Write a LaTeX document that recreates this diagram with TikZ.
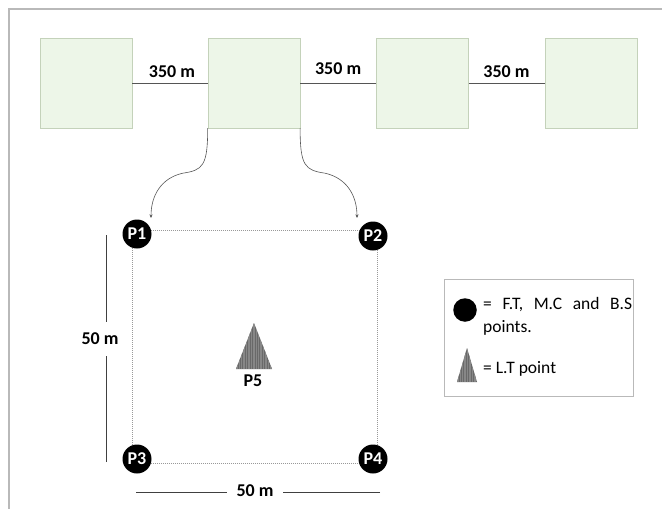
\documentclass[tikz,border=0pt]{standalone}
\usepackage{fontspec}
\setmainfont{Carlito}
\usetikzlibrary{positioning,arrows.meta}
\definecolor{plotfill}{RGB}{237,246,232}
\definecolor{plotline}{RGB}{196,210,186}
\definecolor{framegray}{RGB}{185,185,185}
\definecolor{linkgray}{RGB}{85,85,85}
\definecolor{markgray}{RGB}{105,105,105}
\definecolor{stripegray}{RGB}{135,135,135}
\begin{document}
\begin{tikzpicture}[x=1pt,y=-1pt,line cap=butt,line join=miter,>={Stealth[length=3.5pt,width=3pt]}]
	\tikzset{plotbox/.style={draw=plotline,fill=plotfill,minimum width=92pt,minimum height=90pt,inner sep=0pt},
		dist/.style={font=\fontsize{18}{20}\selectfont\bfseries},
		station/.style={circle,fill=black,text=white,minimum size=29pt,inner sep=0pt,font=\fontsize{18}{20}\selectfont\bfseries},
		link/.style={draw=linkgray,line width=0.7pt},
		curvelink/.style={draw=linkgray,line width=0.6pt,->},
		fieldline/.style={draw=gray!80,line width=0.5pt,dash pattern=on 1.2pt off 0.8pt},
		dimline/.style={draw=black!75,line width=1pt},
		ltmark/.style={fill=markgray,path picture={
				\foreach \i in {0,...,24}{
					\draw[stripegray,line width=0.5pt] ([xshift=1.7*\i pt]path picture bounding box.south west)--++(0,60pt);
				}
			}},
		legtext/.style={font=\fontsize{17.5}{23}\selectfont,inner sep=0pt}
	}
	\useasboundingbox (0,0) rectangle (662,509);
	\draw[framegray,line width=1.3pt] (662,9)--(9,9)--(9,509);
	\node[plotbox] (b1) at (86,83) {};
	\node[plotbox,right=75.5pt of b1] (b2) {};
	\node[plotbox,right=76pt of b2] (b3) {};
	\node[plotbox,right=76pt of b3] (b4) {};
	\draw[link] (b1)--node[dist,above=2pt,xshift=2pt]{350 m} (b2);
	\draw[link] (b2)--node[dist,above=5pt]{350 m} (b3);
	\draw[link] (b3)--node[dist,above=2pt]{350 m} (b4);
	\coordinate (e1) at (151,218);
	\coordinate (e2) at (357,218);
	\draw[curvelink] (b2.south west) .. controls +(0,38) and +(20,-3) .. ++(-25,45)
	.. controls +(-22,5) and +(0,-22) .. (e1);
	\draw[curvelink] (b2.south east) .. controls +(0,38) and +(-20,-3) .. ++(25,45)
	.. controls +(22,5) and +(0,-22) .. (e2);
	\coordinate (s1) at (132,230);
	\coordinate (s4) at (377,463);
	\draw[fieldline] (s1) rectangle (s4);
	\node[station] (p1) at (137,234) {P1};
	\node[station] (p2) at (373,236) {P2};
	\node[station] (p3) at (137,459) {P3};
	\node[station] (p4) at (373,459) {P4};
	\path[ltmark] (254,323)--(272,369)--(236,369)--cycle;
	\node[dist] (p5) at (253,381) {P5};
	\node[dist,inner ysep=11pt] (vlbl) at (100,339) {50 m};
	\coordinate (vtop) at (106,235);
	\coordinate (vbot) at (106,462);
	\draw[dimline] (vtop)--(vtop|-vlbl.north);
	\draw[dimline] (vbot)--(vbot|-vlbl.south);
	\node[dist,inner xsep=9pt] (hlbl) at (255,491) {50 m};
	\coordinate (hl) at (136,492);
	\coordinate (hr) at (380,492);
	\draw[dimline] (hl)--(hl-|hlbl.west);
	\draw[dimline] (hr)--(hr-|hlbl.east);
	\draw[framegray,line width=1pt] (444,279) rectangle (633,396);
	\node[circle,fill=black,minimum size=23.5pt,inner sep=0pt] (lgc) at (465,310) {};
	\node[legtext,text width=149pt,align=justify,anchor=north west] (lgtxt) at (483,297)
	{\frenchspacing = F.T, M.C and B.S points.};
	\path[ltmark] (467,348)--(477,382)--(457,382)--cycle;
	\node[legtext,anchor=base west] (lgtri) at (483,373) {= L.T point};
\end{tikzpicture}
\end{document}
